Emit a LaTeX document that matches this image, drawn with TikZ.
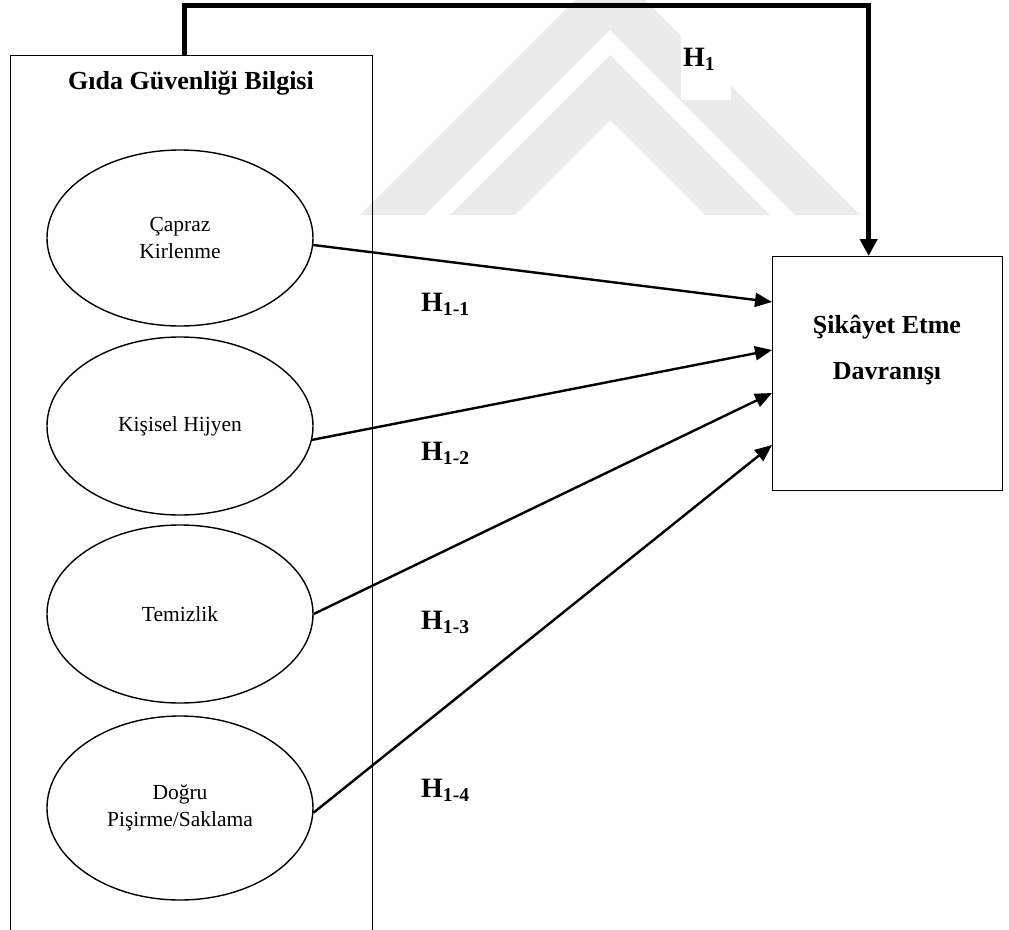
\documentclass[tikz,border=0pt]{standalone}
\usepackage{fontspec}
\setmainfont{Liberation Serif}
\usetikzlibrary{arrows.meta,shapes.geometric,calc}
\begin{document}
\begin{tikzpicture}[x=1pt,y=-1pt,
  wm/.style={fill=black!8, draw=none},
  frame/.style={draw, line width=1.3pt, rectangle, inner sep=0pt},
  elli/.style={draw, ellipse, line width=1.4pt, minimum width=266pt, inner sep=0pt, align=center, font=\fontsize{21.5}{27}\selectfont},
  hyp/.style={-{Triangle[length=17pt,width=14pt]}, line width=2.4pt},
  mainarrow/.style={-{Triangle[length=17pt,width=17pt]}, line width=5pt},
  hlab/.style={font=\bfseries\fontsize{28}{30}\selectfont, inner sep=0pt, anchor=base west},
  boldtxt/.style={font=\bfseries\fontsize{26}{46}\selectfont, align=center, inner sep=0pt}
]
\useasboundingbox (0,0) rectangle (1009,929);
\clip (0,0) rectangle (1009,929);
% watermark
\fill[wm] (360,215) -- (610,-35) -- (860,215) -- (795,215) -- (610,30) -- (425,215) -- cycle;
\fill[wm] (450,215) -- (610,55) -- (770,215) -- (705,215) -- (610,120) -- (515,215) -- cycle;
% boxes
\node[frame, minimum width=362pt, minimum height=900pt, anchor=north west] (gbox) at (10,55) {};
\node[frame, minimum width=230pt, minimum height=234pt, anchor=north west] (sik) at (772,256) {};
\node[boldtxt] (title) at (191,83) {Gıda Güvenliği Bilgisi};
\node[boldtxt] (sikt) at (887,350) {Şikâyet Etme\\Davranışı};
% ellipses
\node[elli, minimum height=176pt] (e1) at (180,238) {Çapraz\\Kirlenme};
\node[elli, minimum height=178pt] (e2) at (180,426) {Kişisel Hijyen};
\node[elli, minimum height=178pt] (e3) at (180,614) {Temizlik};
\node[elli, minimum height=184pt] (e4) at (180,808) {Doğru\\Pişirme/Saklama};
% arrow targets
\coordinate (t1) at ($(sik.north west)+(0,46)$);
\coordinate (t2) at ($(sik.north west)+(0,94)$);
\coordinate (t3) at ($(sik.north west)+(0,137)$);
\coordinate (t4) at ($(sik.north west)+(0,189)$);
\draw[hyp] (e1.357) -- (t1);
\draw[hyp] (e2.354) -- (t2);
\draw[hyp] (e3.east) -- (t3);
\draw[hyp] (e4.358) -- (t4);
% main hypothesis
\draw[mainarrow] ([xshift=-7pt]gbox.north) -- ++(0,-50) -| ([xshift=-19pt]sik.north);
\fill[white] (681,8) rectangle (731,100);
% labels
\node[hlab] (h1) at (683,66) {H\textsubscript{1}};
\node[hlab] (h11) at (421,311) {H\textsubscript{1-1}};
\node[hlab] (h12) at (421,460) {H\textsubscript{1-2}};
\node[hlab] (h13) at (421,629) {H\textsubscript{1-3}};
\node[hlab] (h14) at (421,797) {H\textsubscript{1-4}};
\end{tikzpicture}
\end{document}
